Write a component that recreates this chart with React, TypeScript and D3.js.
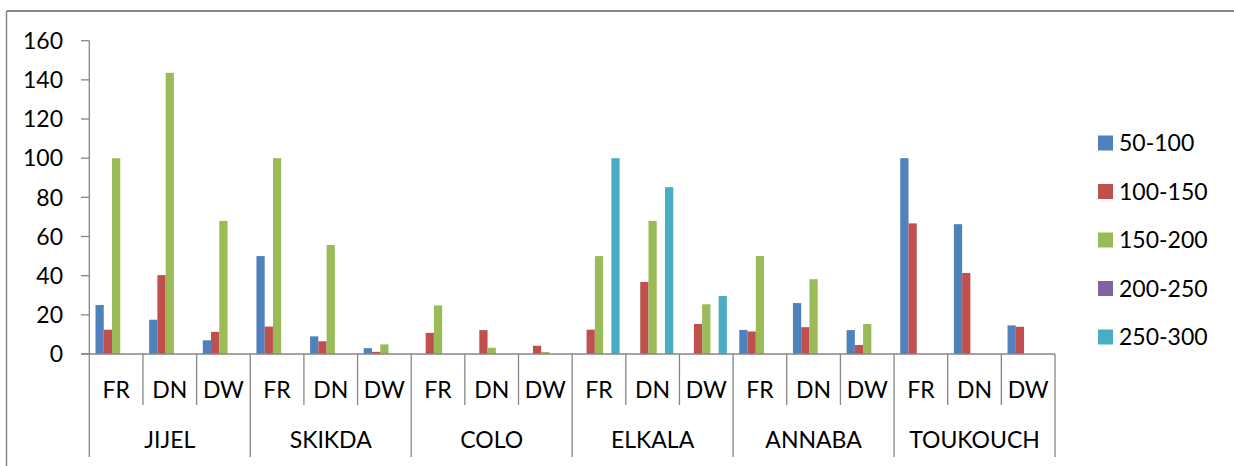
import React from "react";
import * as d3 from "d3";

const regions = ["JIJEL", "SKIKDA", "COLO", "ELKALA", "ANNABA", "TOUKOUCH"];
const subCats = ["FR", "DN", "DW"];
const seriesNames = ["50-100", "100-150", "150-200", "200-250", "250-300"];
const seriesColors = ["#4F81BD", "#C0504D", "#9BBB59", "#8064A2", "#4BACC6"];
const yTicks = [0, 20, 40, 60, 80, 100, 120, 140, 160];

const s50_100 = [25, 17.5, 7, 50, 9, 3, 0, 0, 0, 0, 0, 0, 12.3, 26, 12.2, 100, 66.3, 14.6];
const s100_150 = [12.4, 40.3, 11.3, 14, 6.5, 1.1, 10.8, 12.2, 4.2, 12.4, 36.8, 15.3, 11.5, 13.7, 4.6, 66.7, 41.4, 13.9];
const s150_200 = [100, 143.6, 68, 100, 55.7, 4.9, 24.8, 3.2, 1, 50, 68, 25.4, 50, 38.2, 15.3, 0, 0, 0];
const s200_250 = [0, 0, 0, 0, 0, 0, 0, 0, 0, 0, 0, 0, 0, 0, 0, 0, 0, 0];
const s250_300 = [0, 0, 0, 0, 0, 0, 0, 0, 0, 100, 85.2, 29.6, 0, 0, 0, 0, 0, 0];

const seriesValues = [s50_100, s100_150, s150_200, s200_250, s250_300];

const W = 1234;
const H = 466;
const FONT = "Lato, 'Open Sans', sans-serif";
const FS = 23;

export default function App() {
  const left = 89.3;
  const right = 1055;
  const y0 = 354;
  const yTop = 40.7;

  const cats = regions.flatMap((r) => subCats.map((s) => `${r}|${s}`));
  const x = d3.scaleBand<string>().domain(cats).range([left, right]).padding(0);
  const xs = d3
    .scaleBand<number>()
    .domain(d3.range(seriesNames.length))
    .range([0, x.bandwidth()])
    .paddingInner(0)
    .paddingOuter(0.75);
  const y = d3.scaleLinear().domain([0, 160]).range([y0, yTop]);

  const axisColor = "#868686";
  const groupW = x.bandwidth() * subCats.length;

  return (
    <svg
      width={W}
      height={H}
      style={{ position: "absolute", left: 0, top: 0, background: "#fff" }}
      fontFamily={FONT}
    >
      <rect x={0} y={0} width={W} height={H} fill="#fff" />
      {/* outer chart border */}
      <line x1={6.5} y1={11} x2={W} y2={11} stroke={axisColor} strokeWidth={2} />
      <line x1={6.5} y1={11} x2={6.5} y2={H} stroke={axisColor} strokeWidth={1.5} />

      {/* y axis */}
      <line x1={left} y1={yTop} x2={left} y2={y0} stroke={axisColor} strokeWidth={1.3} />
      {yTicks.map((t) => (
        <g key={t}>
          <line x1={81} x2={left} y1={y(t)} y2={y(t)} stroke={axisColor} strokeWidth={1.3} />
          <text x={63} y={y(t)} dy="0.36em" textAnchor="end" fontSize={FS} fill="#000">
            {t}
          </text>
        </g>
      ))}

      {/* bars */}
      {seriesValues.map((vals, si) => (
        <g key={si} fill={seriesColors[si]}>
          {vals.map((v, ci) =>
            v > 0 ? (
              <rect
                key={ci}
                x={(x(cats[ci]) as number) + (xs(si) as number)}
                y={y(v)}
                width={xs.bandwidth()}
                height={y0 - y(v)}
              />
            ) : null
          )}
        </g>
      ))}

      {/* x axis */}
      <line x1={81} x2={right} y1={y0} y2={y0} stroke={axisColor} strokeWidth={1.3} />
      {cats.map((c, i) => {
        const xx = x(c) as number;
        const isGroupStart = i % subCats.length === 0;
        return (
          <g key={c}>
            <line
              x1={xx}
              x2={xx}
              y1={y0}
              y2={isGroupStart ? 457 : 405}
              stroke={axisColor}
              strokeWidth={1.3}
            />
            <text
              x={xx + x.bandwidth() / 2}
              y={390}
              dy="0.36em"
              textAnchor="middle"
              fontSize={FS}
              fill="#000"
            >
              {subCats[i % subCats.length]}
            </text>
          </g>
        );
      })}
      <line x1={right} x2={right} y1={y0} y2={457} stroke={axisColor} strokeWidth={1.3} />
      {regions.map((r, gi) => {
        const gx = x(`${r}|${subCats[0]}`) as number;
        return (
          <text
            key={r}
            x={gx + groupW / 2}
            y={440}
            dy="0.36em"
            textAnchor="middle"
            fontSize={FS}
            fill="#000"
          >
            {r}
          </text>
        );
      })}

      {/* legend */}
      {seriesNames.map((n, i) => {
        const cy = 143 + i * 48.5;
        return (
          <g key={n}>
            <rect x={1098} y={cy - 7.5} width={15} height={15} fill={seriesColors[i]} />
            <text x={1119} y={cy} dy="0.36em" fontSize={FS} fill="#000">
              {n}
            </text>
          </g>
        );
      })}
    </svg>
  );
}
